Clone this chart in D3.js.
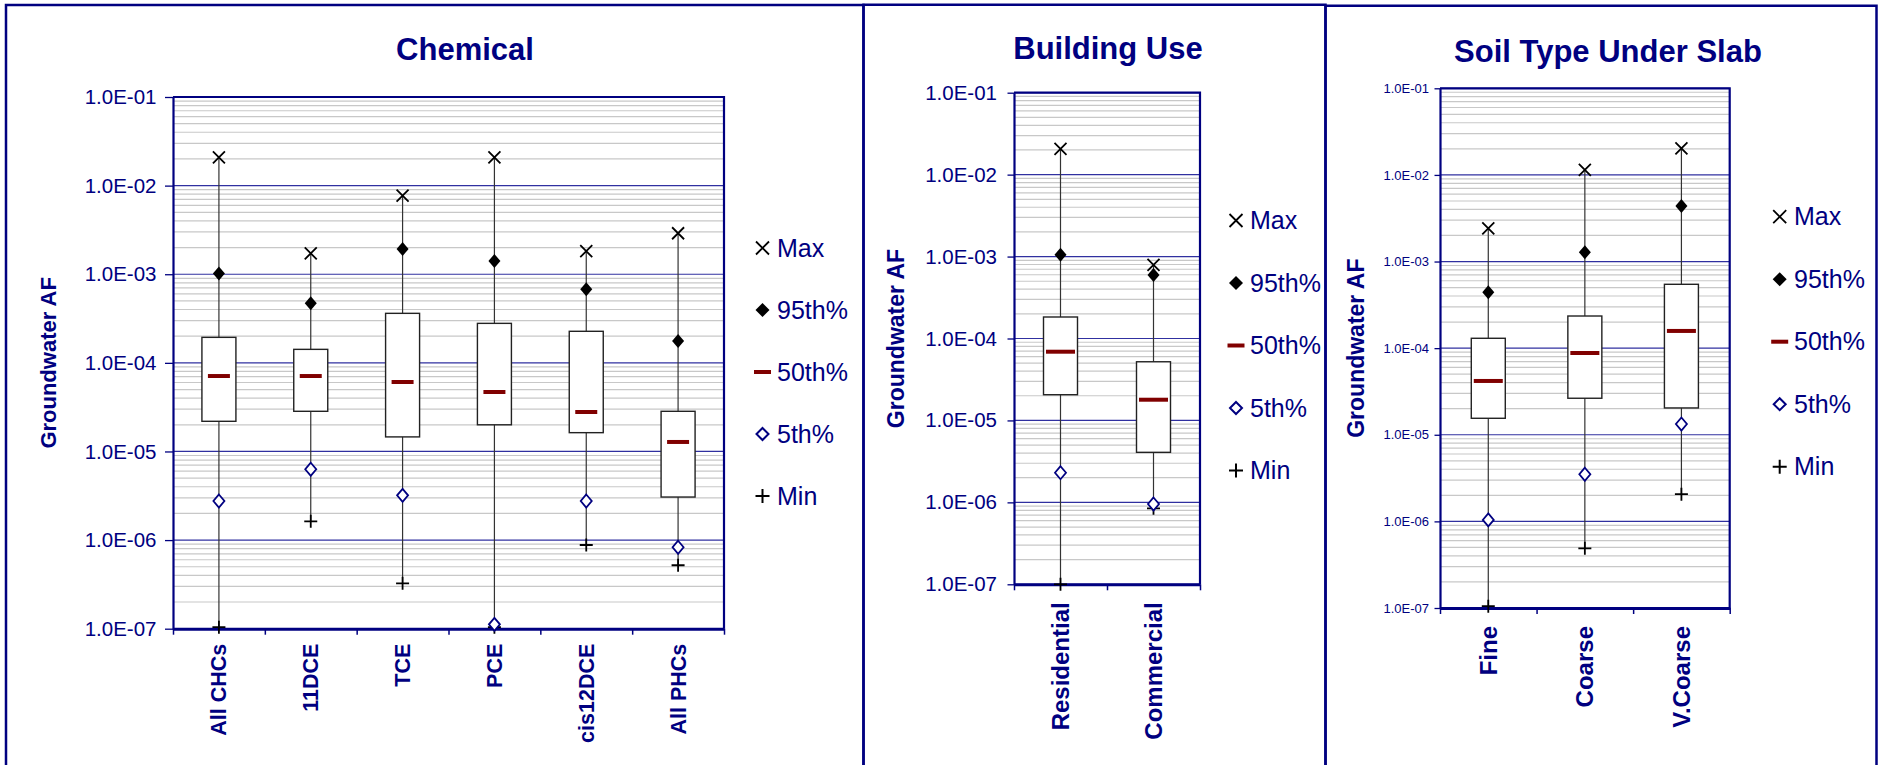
<!DOCTYPE html>
<html>
<head>
<meta charset="utf-8">
<script src="https://cdnjs.cloudflare.com/ajax/libs/d3/7.8.5/d3.min.js"></script>
<style>
  body { margin: 0; background: #ffffff; }
  svg text { font-family: "Liberation Sans", Arial, sans-serif; }
</style>
</head>
<body>
<div id="chart"></div>
<script>
// ---- values ----
var yTicks = [1e-1, 1e-2, 1e-3, 1e-4, 1e-5, 1e-6, 1e-7];
var yTickLabels = ["1.0E-01", "1.0E-02", "1.0E-03", "1.0E-04", "1.0E-05", "1.0E-06", "1.0E-07"];
var legendLabels = ["Max", "95th%", "50th%", "5th%", "Min"];
var yTitle = "Groundwater AF";

var chemCats = ["All CHCs", "11DCE", "TCE", "PCE", "cis12DCE", "All PHCs"];
var chemMax = [2.08e-2, 1.72e-3, 7.7e-3, 2.08e-2, 1.82e-3, 2.9e-3];
var chem95 = [1.02e-3, 4.7e-4, 1.93e-3, 1.41e-3, 6.76e-4, 1.77e-4];
var chem75 = [1.94e-4, 1.42e-4, 3.62e-4, 2.79e-4, 2.27e-4, 2.84e-5];
var chem50 = [7.1e-5, 7.1e-5, 6.08e-5, 4.69e-5, 2.79e-5, 1.28e-5];
var chem25 = [2.19e-5, 2.84e-5, 1.46e-5, 2.0e-5, 1.63e-5, 3.06e-6];
var chem5 = [2.76e-6, 6.3e-6, 3.2e-6, 1.12e-7, 2.76e-6, 8.3e-7];
var chemMin = [1.04e-7, 1.63e-6, 3.25e-7, 1.04e-7, 8.8e-7, 5.2e-7];

var useCats = ["Residential", "Commercial"];
var useMax = [2.06e-2, 7.9e-4];
var use95 = [1.05e-3, 5.96e-4];
var use75 = [1.83e-4, 5.2e-5];
var use50 = [6.9e-5, 1.79e-5];
var use25 = [2.06e-5, 4.08e-6];
var use5 = [2.3e-6, 9.55e-7];
var useMin = [1.0e-7, 8.45e-7];

var soilCats = ["Fine", "Coarse", "V.Coarse"];
var soilMax = [2.42e-3, 1.14e-2, 2.03e-2];
var soil95 = [4.42e-4, 1.28e-3, 4.38e-3];
var soil75 = [1.30e-4, 2.35e-4, 5.46e-4];
var soil50 = [4.18e-5, 8.79e-5, 1.58e-4];
var soil25 = [1.55e-5, 2.64e-5, 2.04e-5];
var soil5 = [1.04e-6, 3.5e-6, 1.33e-5];
var soilMin = [1.05e-7, 4.89e-7, 2.06e-6];

var navy = "#000080";

var svg = d3.select("#chart").append("svg")
    .attr("width", 1881)
    .attr("height", 765);

// panel frames (no bottom edge)
var frames = [
    {x0: 6, x1: 863.5, y: 5},
    {x0: 863.5, x1: 1325.5, y: 4.7},
    {x0: 1325.5, x1: 1876.5, y: 5.7}
];
frames.forEach(function(f) {
    svg.append("path")
        .attr("d", "M" + f.x0 + ",766V" + f.y + "H" + f.x1 + "V766")
        .attr("fill", "none")
        .attr("stroke", navy)
        .attr("stroke-width", 2.5);
});

// custom marker shapes
function diamond(hw, hh) {
    return {draw: function(ctx) {
        ctx.moveTo(0, -hh); ctx.lineTo(hw, 0); ctx.lineTo(0, hh); ctx.lineTo(-hw, 0); ctx.closePath();
    }};
}
function cross(h) {
    return {draw: function(ctx) {
        ctx.moveTo(-h, -h); ctx.lineTo(h, h); ctx.moveTo(-h, h); ctx.lineTo(h, -h);
    }};
}
function plus(h) {
    return {draw: function(ctx) {
        ctx.moveTo(-h, 0); ctx.lineTo(h, 0); ctx.moveTo(0, -h); ctx.lineTo(0, h);
    }};
}

function drawPanel(p) {
    var rows = p.cats.map(function(c, i) {
        return {cat: c, max: p.max[i], p95: p.p95[i], q3: p.q3[i], med: p.med[i],
                q1: p.q1[i], p5: p.p5[i], min: p.min[i]};
    });

    var x = d3.scaleBand().domain(p.cats).range([p.left, p.right]);
    var xEdge = d3.scaleLinear().domain([0, p.cats.length]).range([p.left, p.right]);
    var y = d3.scaleLog().domain([1e-7, 1e-1]).range([p.bottom, p.top]);

    var g = svg.append("g");

    // grid: minor lines grey, decades navy
    var grid = y.ticks();
    g.append("g").selectAll("line")
        .data(grid.filter(function(d) { return Math.abs(Math.log10(d) - Math.round(Math.log10(d))) > 1e-6; }))
        .enter().append("line")
        .attr("x1", p.left).attr("x2", p.right)
        .attr("y1", function(d) { return y(d); })
        .attr("y2", function(d) { return y(d); })
        .attr("stroke", "#c8c8c8")
        .attr("stroke-width", 1.2);
    g.append("g").selectAll("line")
        .data(yTicks)
        .enter().append("line")
        .attr("x1", p.left).attr("x2", p.right)
        .attr("y1", function(d) { return y(d); })
        .attr("y2", function(d) { return y(d); })
        .attr("stroke", "#3030a0")
        .attr("stroke-width", 1.2);

    // top / right frame of the plot
    g.append("path")
        .attr("d", "M" + p.left + "," + p.top + "H" + p.right + "V" + p.bottom)
        .attr("fill", "none")
        .attr("stroke", navy)
        .attr("stroke-width", 2.2);

    // y axis
    var yAxis = g.append("g")
        .attr("transform", "translate(" + p.left + ",0)")
        .call(d3.axisLeft(y).tickValues(yTicks)
            .tickFormat(function(d, i) { return yTickLabels[i]; })
            .tickSize(p.tickLen).tickSizeOuter(0).tickPadding(p.labelPad));
    yAxis.select(".domain").attr("stroke", navy).attr("stroke-width", 2.2);
    yAxis.selectAll(".tick line").attr("stroke", navy).attr("stroke-width", 1.3);
    yAxis.selectAll(".tick text")
        .attr("fill", navy)
        .attr("font-size", p.labelSize)
        .attr("font-family", "Liberation Sans, Arial, sans-serif");

    // x axis: ticks at category edges
    var xAxis = g.append("g")
        .attr("transform", "translate(0," + p.bottom + ")")
        .call(d3.axisBottom(xEdge).tickValues(d3.range(p.cats.length + 1))
            .tickFormat("").tickSize(6).tickSizeOuter(0));
    xAxis.select(".domain").attr("stroke", navy).attr("stroke-width", 3);
    xAxis.selectAll(".tick line").attr("stroke", navy).attr("stroke-width", 1.5);

    // category labels
    var xLab = g.append("g")
        .attr("transform", "translate(0," + p.bottom + ")")
        .call(d3.axisBottom(x).tickSize(0));
    xLab.select(".domain").remove();
    xLab.selectAll(".tick text")
        .attr("transform", "rotate(-90)")
        .attr("text-anchor", "end")
        .attr("x", -p.catGap)
        .attr("y", 0)
        .attr("dy", "0.35em")
        .attr("fill", navy)
        .attr("font-weight", "bold")
        .attr("font-size", p.catSize)
        .attr("font-family", "Liberation Sans, Arial, sans-serif");

    var cx = function(d) { return x(d.cat) + x.bandwidth() / 2; };

    // whiskers min..max
    g.append("g").selectAll("line")
        .data(rows).enter().append("line")
        .attr("x1", cx).attr("x2", cx)
        .attr("y1", function(d) { return y(d.min); })
        .attr("y2", function(d) { return y(d.max); })
        .attr("stroke", "#333333")
        .attr("stroke-width", 1.2);

    // boxes q1..q3
    g.append("g").selectAll("rect")
        .data(rows).enter().append("rect")
        .attr("x", function(d) { return cx(d) - p.boxW / 2; })
        .attr("y", function(d) { return y(d.q3); })
        .attr("width", p.boxW)
        .attr("height", function(d) { return y(d.q1) - y(d.q3); })
        .attr("fill", "#ffffff")
        .attr("stroke", "#222222")
        .attr("stroke-width", 1.4);

    // medians
    g.append("g").selectAll("line")
        .data(rows).enter().append("line")
        .attr("x1", function(d) { return cx(d) - p.medW / 2; })
        .attr("x2", function(d) { return cx(d) + p.medW / 2; })
        .attr("y1", function(d) { return y(d.med); })
        .attr("y2", function(d) { return y(d.med); })
        .attr("stroke", "#800000")
        .attr("stroke-width", 4);

    var sym = d3.symbol();
    function markers(key, type, fill, stroke, sw) {
        g.append("g").selectAll("path")
            .data(rows).enter().append("path")
            .attr("transform", function(d) { return "translate(" + cx(d) + "," + y(d[key]) + ")"; })
            .attr("d", sym.type(type)())
            .attr("fill", fill)
            .attr("stroke", stroke)
            .attr("stroke-width", sw);
    }
    markers("min", plus(6.5), "none", "#000000", 1.8);
    markers("p5", diamond(5.5, 6.5), "#ffffff", navy, 1.8);
    markers("p95", diamond(6, 7), "#000000", "none", 0);
    markers("max", cross(6), "none", "#000000", 1.8);

    // titles
    svg.append("text")
        .attr("x", p.titleX).attr("y", p.titleY)
        .attr("text-anchor", "middle")
        .attr("fill", navy)
        .attr("font-weight", "bold")
        .attr("font-size", 31)
        .text(p.title);

    svg.append("text")
        .attr("transform", "translate(" + p.yTitleX + "," + ((p.top + p.bottom) / 2) + ") rotate(-90)")
        .attr("text-anchor", "middle")
        .attr("dy", "0.35em")
        .attr("fill", navy)
        .attr("font-weight", "bold")
        .attr("font-size", p.yTitleSize)
        .text(yTitle);

    // legend
    var leg = svg.append("g");
    var legShapes = [
        {t: cross(6.5), fill: "none", stroke: "#000000", sw: 1.8},
        {t: diamond(7, 7), fill: "#000000", stroke: "none", sw: 0},
        null,
        {t: diamond(6, 6), fill: "#ffffff", stroke: navy, sw: 2},
        {t: plus(7), fill: "none", stroke: "#000000", sw: 2}
    ];
    legendLabels.forEach(function(lab, i) {
        var ly = p.legY + i * p.legGap;
        var s = legShapes[i];
        if (s) {
            leg.append("path")
                .attr("transform", "translate(" + p.legX + "," + ly + ")")
                .attr("d", sym.type(s.t)())
                .attr("fill", s.fill)
                .attr("stroke", s.stroke)
                .attr("stroke-width", s.sw);
        } else {
            leg.append("line")
                .attr("x1", p.legX - 8.5).attr("x2", p.legX + 8.5)
                .attr("y1", ly).attr("y2", ly)
                .attr("stroke", "#800000")
                .attr("stroke-width", 4);
        }
        leg.append("text")
            .attr("x", p.legTextX).attr("y", ly)
            .attr("dy", "0.35em")
            .attr("fill", navy)
            .attr("font-size", 25)
            .text(lab);
    });
}

drawPanel({
    title: "Chemical", cats: chemCats,
    max: chemMax, p95: chem95, q3: chem75, med: chem50, q1: chem25, p5: chem5, min: chemMin,
    left: 173, right: 724, top: 97, bottom: 628.7,
    tickLen: 8, labelPad: 8.5, labelSize: 20.5, catSize: 21.5, catGap: 15,
    boxW: 34, medW: 22,
    titleX: 465, titleY: 60, yTitleX: 48, yTitleSize: 22,
    legX: 762.5, legTextX: 777, legY: 248, legGap: 62
});

drawPanel({
    title: "Building Use", cats: useCats,
    max: useMax, p95: use95, q3: use75, med: use50, q1: use25, p5: use5, min: useMin,
    left: 1014, right: 1200, top: 92.7, bottom: 584.3,
    tickLen: 6.5, labelPad: 10.5, labelSize: 20.5, catSize: 24, catGap: 18,
    boxW: 34, medW: 29,
    titleX: 1108, titleY: 59, yTitleX: 896, yTitleSize: 23,
    legX: 1236, legTextX: 1250, legY: 220.5, legGap: 62.5
});

drawPanel({
    title: "Soil Type Under Slab", cats: soilCats,
    max: soilMax, p95: soil95, q3: soil75, med: soil50, q1: soil25, p5: soil5, min: soilMin,
    left: 1440, right: 1729.7, top: 88.3, bottom: 608,
    tickLen: 5.5, labelPad: 5.5, labelSize: 13, catSize: 24, catGap: 18,
    boxW: 34, medW: 29,
    titleX: 1608, titleY: 61.7, yTitleX: 1356, yTitleSize: 23,
    legX: 1779.7, legTextX: 1794, legY: 216.7, legGap: 62.5
});
</script>
</body>
</html>
